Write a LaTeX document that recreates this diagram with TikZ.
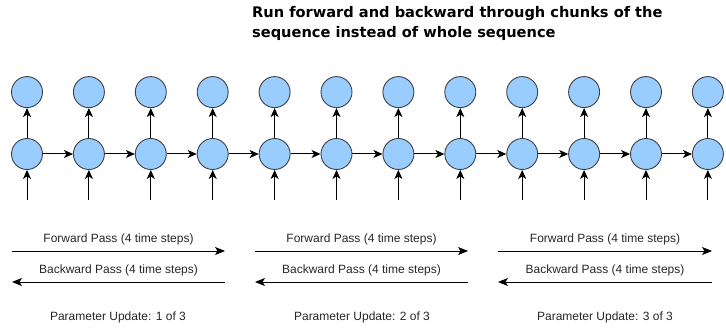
\documentclass[tikz,border=0pt]{standalone}
\usepackage{fontspec}
\setmainfont{Liberation Sans}
\newfontfamily\titlefont{DejaVu Sans}
\usepackage{xcolor}
\usetikzlibrary{positioning, arrows.meta}

\definecolor{unitblue}{RGB}{153,204,255}

\begin{document}
\begin{tikzpicture}[
x=1pt, y=1pt,
node distance=30pt and 30pt,
unit/.style={circle, draw=black!75, fill=unitblue, minimum size=31pt, inner sep=0pt, line width=0.9pt},
arrow/.style={-{Stealth[length=9pt, width=8pt, inset=2.5pt]}, line width=1pt},
pass/.style={-{Stealth[length=10pt, width=8pt, inset=2.5pt]}, line width=0.9pt},
lbl/.style={font=\fontsize{12}{14}\selectfont, text=black!85, inner sep=0pt},
title/.style={font=\titlefont\bfseries\fontsize{14.6}{20}\selectfont, align=left, anchor=north west, inner sep=0pt}
]
\useasboundingbox (0,0) rectangle (726,-334);

\node[title] (title) at (252,-6.5) {Run forward and backward through chunks of the\\sequence instead of whole sequence};

% hidden units
\node[unit] (h1) at (27,-154) {};
\node[unit, right=of h1] (h2) {};
\node[unit, right=of h2] (h3) {};
\node[unit, right=of h3] (h4) {};
\node[unit, right=of h4] (h5) {};
\node[unit, right=of h5] (h6) {};
\node[unit, right=of h6] (h7) {};
\node[unit, right=of h7] (h8) {};
\node[unit, right=of h8] (h9) {};
\node[unit, right=of h9] (h10) {};
\node[unit, right=of h10] (h11) {};
\node[unit, right=of h11] (h12) {};

% outputs
\node[unit, above=of h1] (o1) {};
\node[unit, above=of h2] (o2) {};
\node[unit, above=of h3] (o3) {};
\node[unit, above=of h4] (o4) {};
\node[unit, above=of h5] (o5) {};
\node[unit, above=of h6] (o6) {};
\node[unit, above=of h7] (o7) {};
\node[unit, above=of h8] (o8) {};
\node[unit, above=of h9] (o9) {};
\node[unit, above=of h10] (o10) {};
\node[unit, above=of h11] (o11) {};
\node[unit, above=of h12] (o12) {};

% inputs
\coordinate[below=of h1] (x1);
\coordinate[below=of h2] (x2);
\coordinate[below=of h3] (x3);
\coordinate[below=of h4] (x4);
\coordinate[below=of h5] (x5);
\coordinate[below=of h6] (x6);
\coordinate[below=of h7] (x7);
\coordinate[below=of h8] (x8);
\coordinate[below=of h9] (x9);
\coordinate[below=of h10] (x10);
\coordinate[below=of h11] (x11);
\coordinate[below=of h12] (x12);

\draw[arrow] (x1) -- (h1);
\draw[arrow] (x2) -- (h2);
\draw[arrow] (x3) -- (h3);
\draw[arrow] (x4) -- (h4);
\draw[arrow] (x5) -- (h5);
\draw[arrow] (x6) -- (h6);
\draw[arrow] (x7) -- (h7);
\draw[arrow] (x8) -- (h8);
\draw[arrow] (x9) -- (h9);
\draw[arrow] (x10) -- (h10);
\draw[arrow] (x11) -- (h11);
\draw[arrow] (x12) -- (h12);

\draw[arrow] (h1) -- (o1);
\draw[arrow] (h2) -- (o2);
\draw[arrow] (h3) -- (o3);
\draw[arrow] (h4) -- (o4);
\draw[arrow] (h5) -- (o5);
\draw[arrow] (h6) -- (o6);
\draw[arrow] (h7) -- (o7);
\draw[arrow] (h8) -- (o8);
\draw[arrow] (h9) -- (o9);
\draw[arrow] (h10) -- (o10);
\draw[arrow] (h11) -- (o11);
\draw[arrow] (h12) -- (o12);

\draw[arrow] (h1) -- (h2);
\draw[arrow] (h2) -- (h3);
\draw[arrow] (h3) -- (h4);
\draw[arrow] (h4) -- (h5);
\draw[arrow] (h5) -- (h6);
\draw[arrow] (h6) -- (h7);
\draw[arrow] (h7) -- (h8);
\draw[arrow] (h8) -- (h9);
\draw[arrow] (h9) -- (h10);
\draw[arrow] (h10) -- (h11);
\draw[arrow] (h11) -- (h12);

% passes per chunk
\coordinate (fwd1a) at (12,-251);  \coordinate (fwd1b) at (225,-251);
\coordinate (fwd2a) at (255,-251); \coordinate (fwd2b) at (468,-251);
\coordinate (fwd3a) at (498,-251); \coordinate (fwd3b) at (712,-251);
\coordinate (bwd1a) at (225,-282); \coordinate (bwd1b) at (12,-282);
\coordinate (bwd2a) at (468,-282); \coordinate (bwd2b) at (255,-282);
\coordinate (bwd3a) at (712,-282); \coordinate (bwd3b) at (498,-282);

\draw[pass] (fwd1a) -- node[lbl, above=6pt] (fwd1) {Forward Pass (4 time steps)} (fwd1b);
\draw[pass] (fwd2a) -- node[lbl, above=6pt] (fwd2) {Forward Pass (4 time steps)} (fwd2b);
\draw[pass] (fwd3a) -- node[lbl, above=6pt] (fwd3) {Forward Pass (4 time steps)} (fwd3b);
\draw[pass] (bwd1a) -- node[lbl, above=6pt] (bwd1) {Backward Pass (4 time steps)} (bwd1b);
\draw[pass] (bwd2a) -- node[lbl, above=6pt] (bwd2) {Backward Pass (4 time steps)} (bwd2b);
\draw[pass] (bwd3a) -- node[lbl, above=6pt] (bwd3) {Backward Pass (4 time steps)} (bwd3b);

\node[lbl] (upd1) at (118,-317) {Parameter Update: 1 of 3};
\node[lbl] (upd2) at (362,-317) {Parameter Update: 2 of 3};
\node[lbl] (upd3) at (605,-317) {Parameter Update: 3 of 3};

\end{tikzpicture}
\end{document}
